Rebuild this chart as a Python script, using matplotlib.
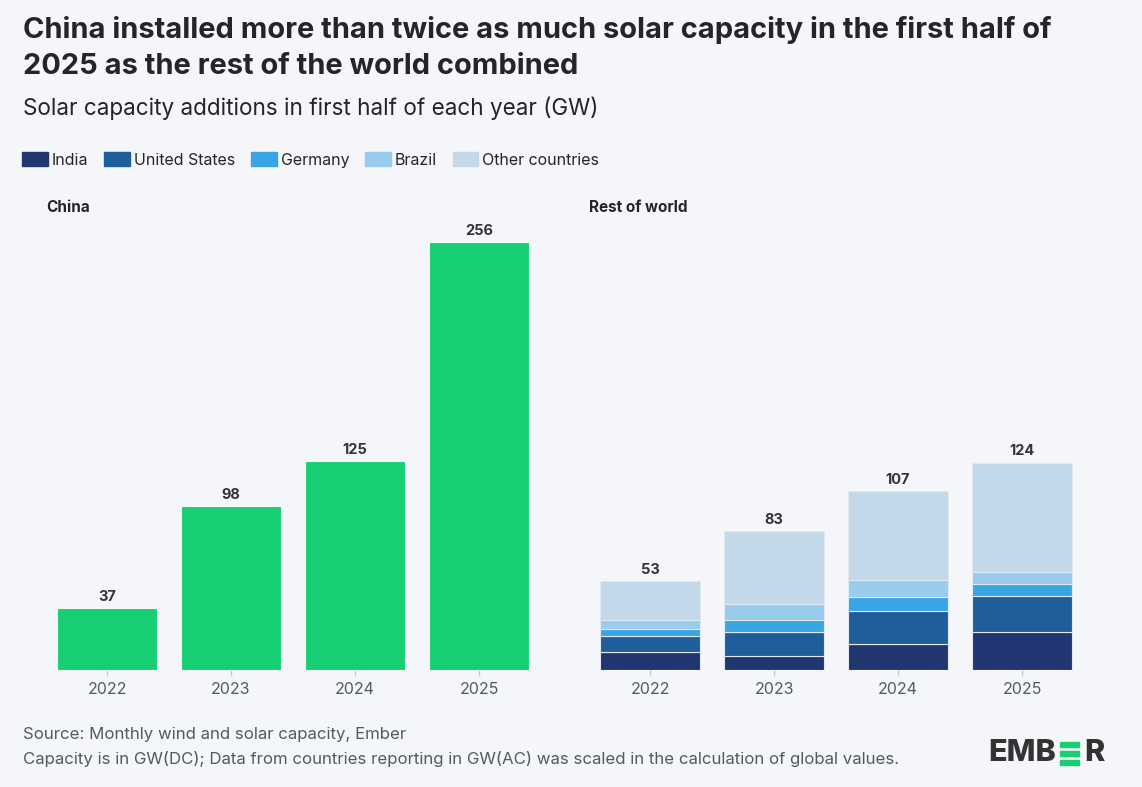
import matplotlib
matplotlib.use("Agg")
import matplotlib.pyplot as plt
from matplotlib.patches import Rectangle
import numpy as np

plt.rcParams['font.family'] = ['Inter', 'DejaVu Sans']

years = ["2022", "2023", "2024", "2025"]
china = [37, 98, 125, 256]
india = [10.6, 8.6, 15.4, 22.9]
united_states = [9.9, 14.3, 20.1, 21.6]
germany = [4.0, 7.0, 8.2, 7.1]
brazil = [5.4, 9.8, 10.3, 7.0]
other_countries = [23.1, 43.3, 53.0, 65.4]
row_totals = [53, 83, 107, 124]

series_names = ["India", "United States", "Germany", "Brazil", "Other countries"]
series_vals = [india, united_states, germany, brazil, other_countries]
series_colors = ["#213671", "#1f5e9b", "#38a6e4", "#98cbec", "#c3d9ea"]
china_color = "#17cf72"
bg = "#f5f6fa"
text_dark = "#24242a"
text_gray = "#555a60"

W, H = 1142, 787
fig = plt.figure(figsize=(W / 100, H / 100), dpi=100, facecolor=bg)

def ax_rect(x0, y0, x1, y1):
    return [x0 / W, 1 - y1 / H, (x1 - x0) / W, (y1 - y0) / H]

ymax = 272
axL = fig.add_axes(ax_rect(45, 215, 541, 670))
axR = fig.add_axes(ax_rect(588, 215, 1084, 670))
x = np.arange(len(years))

for ax in (axL, axR):
    ax.set_facecolor(bg)
    ax.set_ylim(0, ymax)
    ax.set_xlim(-0.5, len(years) - 0.5)
    for s in ax.spines.values():
        s.set_visible(False)
    ax.set_yticks([])
    ax.set_xticks(x)
    ax.set_xticklabels(years, fontsize=11.5, color=text_gray)
    ax.tick_params(axis='x', length=4, width=1, color="#c8ccd2", pad=5)

# China
axL.bar(x, china, width=0.8, color=china_color, edgecolor=bg, linewidth=0.8)
for xi, v in zip(x, china):
    axL.text(xi, v + 2.5, f"{v}", ha='center', va='bottom', fontsize=10.5,
             fontweight='bold', color="#333338")

# Rest of world stacked
bottom = np.zeros(len(years))
for name, vals, col in zip(series_names, series_vals, series_colors):
    axR.bar(x, vals, bottom=bottom, width=0.8, color=col, edgecolor="#e2e8f0",
            linewidth=0.8, label=name)
    bottom += np.array(vals)
for xi, v in zip(x, row_totals):
    axR.text(xi, v + 2.5, f"{v}", ha='center', va='bottom', fontsize=10.5,
             fontweight='bold', color="#333338")

# Panel labels
fig.text(46 / W, 1 - 208 / H, "China", fontsize=11, fontweight='bold',
         color=text_dark, va='center')
fig.text(589 / W, 1 - 208 / H, "Rest of world", fontsize=11, fontweight='bold',
         color=text_dark, va='center')

# Title and subtitle
fig.text(23 / W, 1 - 30 / H, "China installed more than twice as much solar capacity in the first half of",
         fontsize=20.9, fontweight='bold', color=text_dark, va='center')
fig.text(23 / W, 1 - 66 / H, "2025 as the rest of the world combined",
         fontsize=20.9, fontweight='bold', color=text_dark, va='center')
fig.text(23 / W, 1 - 108 / H, "Solar capacity additions in first half of each year (GW)",
         fontsize=16.2, color=text_dark, va='center')

# Legend
handles = [Rectangle((0, 0), 1, 1, color=c) for c in series_colors]
leg = fig.legend(handles, series_names, loc='center left',
                 bbox_to_anchor=(16 / W, 1 - 160 / H), ncol=5, frameon=False,
                 fontsize=11.5, handlelength=1.6, handleheight=1.0,
                 handletextpad=0.25, columnspacing=1.0, borderaxespad=0)
for t in leg.get_texts():
    t.set_color(text_dark)

# Footer
fig.text(23 / W, 1 - 735 / H, "Source: Monthly wind and solar capacity, Ember",
         fontsize=12.1, color=text_gray, va='center')
fig.text(23 / W, 1 - 759 / H,
         "Capacity is in GW(DC); Data from countries reporting in GW(AC) was scaled in the calculation of global values.",
         fontsize=12.1, color=text_gray, va='center')

# Ember logo
fig.text(988 / W, 1 - 753 / H, "EMB", fontsize=22, fontweight='heavy',
         color="#333333", va='center', ha='left')
for yy in (742, 751, 760):
    fig.patches.append(Rectangle((1060 / W, 1 - (yy + 4.5) / H), 19 / W, 4.5 / H,
                                 transform=fig.transFigure, color=china_color))
fig.text(1084 / W, 1 - 753 / H, "R", fontsize=22, fontweight='heavy',
         color="#333333", va='center', ha='left')

fig.savefig("out.png", dpi=100, facecolor=bg)
